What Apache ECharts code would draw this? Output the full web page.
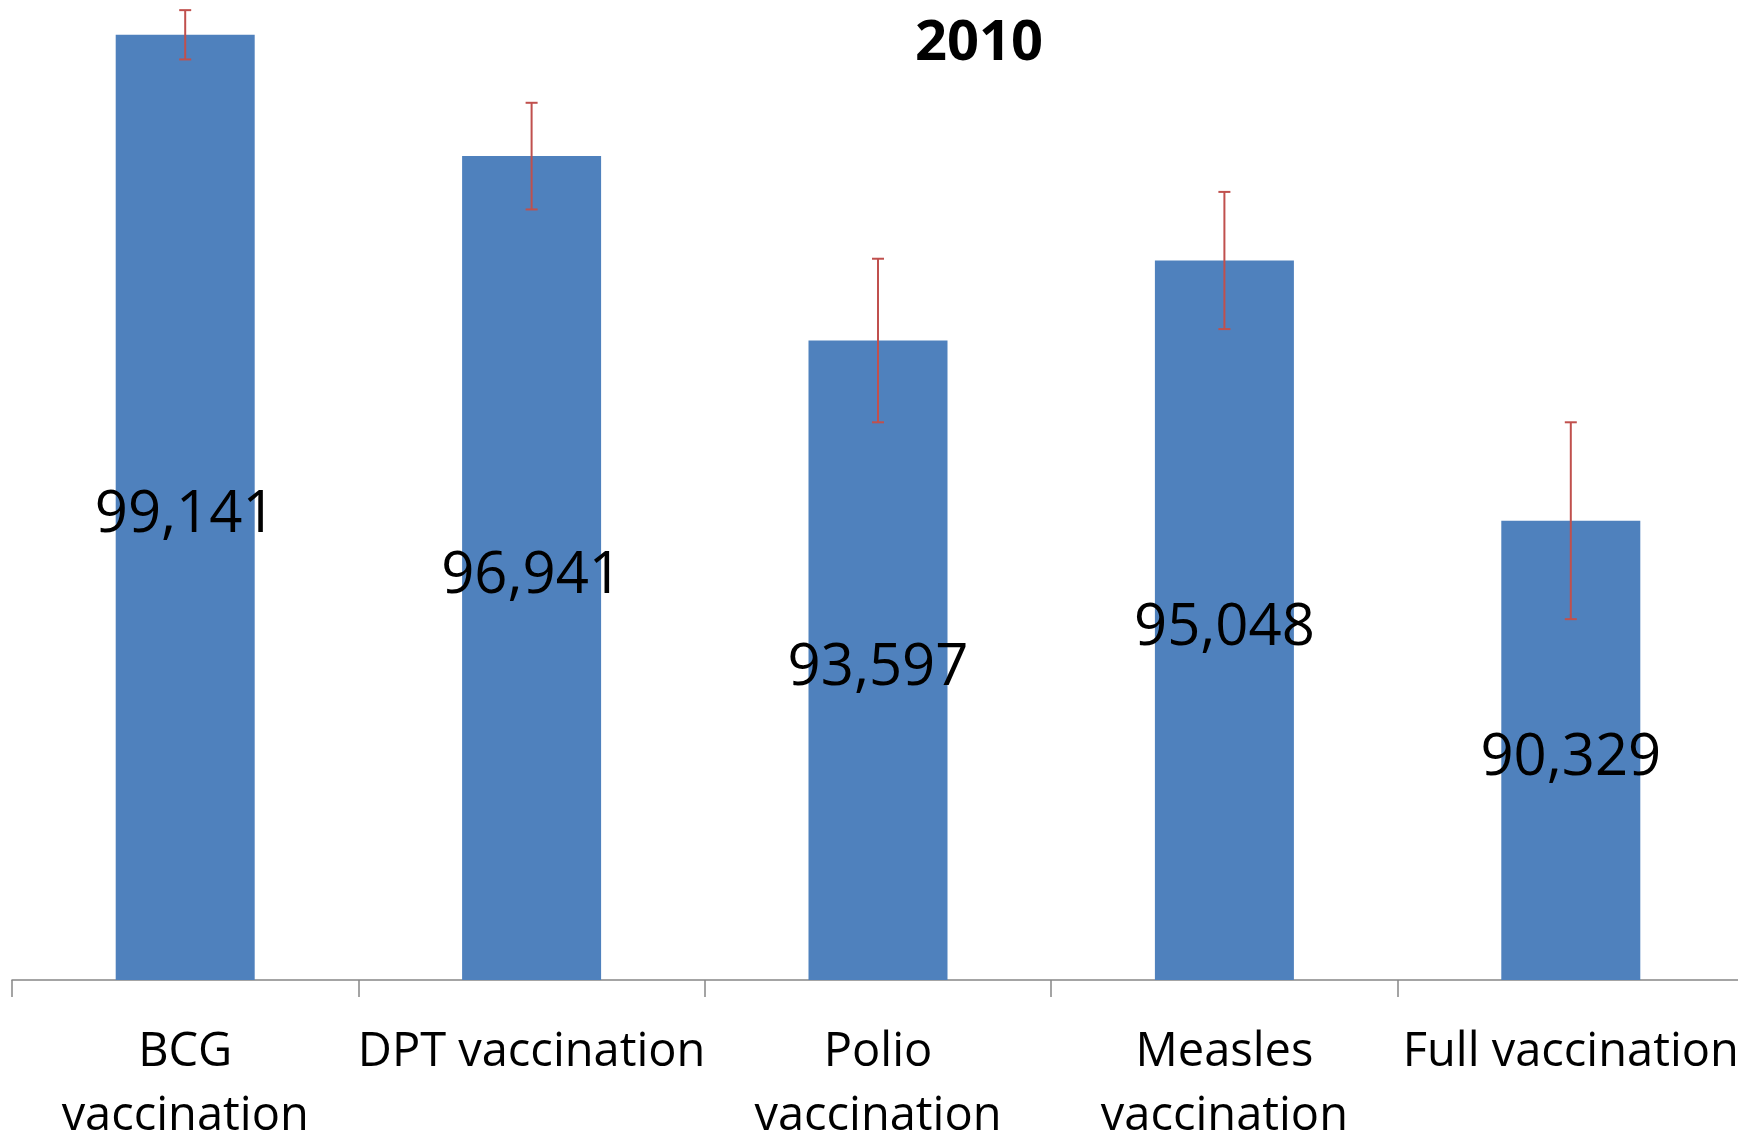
<!DOCTYPE html>
<html>
<head>
<meta charset="utf-8">
<script src="https://cdn.jsdelivr.net/npm/echarts@6/dist/echarts.min.js"></script>
<style>
html,body{margin:0;padding:0;background:#fff;}
#chart{width:1738px;height:1138px;}
</style>
</head>
<body>
<div id="chart"></div>
<script>
var titleText = '2010';
var categories = ['BCG\nvaccination', 'DPT vaccination', 'Polio\nvaccination', 'Measles\nvaccination', 'Full vaccination'];
var values = [99141, 96941, 93597, 95048, 90329];
var errors = [447, 967, 1483, 1244, 1785];

var FONT = 'Open Sans';
var errData = values.map(function (v, i) { return [i, v - errors[i], v + errors[i]]; });

var chart = echarts.init(document.getElementById('chart'), null, {renderer: 'canvas'});
chart.setOption({
  backgroundColor: '#ffffff',
  animation: false,
  title: {
    text: titleText,
    left: 910,
    top: 11,
    textStyle: {fontFamily: FONT, fontWeight: 'bold', fontSize: 56, color: '#000'}
  },
  grid: {left: 12, width: 1732, top: 15, height: 965, containLabel: false, outerBoundsMode: 'none'},
  xAxis: {
    type: 'category',
    data: categories,
    boundaryGap: true,
    axisLine: {show: true, lineStyle: {color: '#868686', width: 1.5}},
    axisTick: {show: true, alignWithLabel: false, length: 17, lineStyle: {color: '#868686', width: 1.5}},
    axisLabel: {interval: 0, margin: 41, fontFamily: FONT, fontSize: 47, color: '#000', lineHeight: 64, align: 'center'},
    splitLine: {show: false}
  },
  yAxis: {
    type: 'value',
    min: 82000,
    max: 99500,
    show: false,
    splitLine: {show: false}
  },
  series: [
    {
      type: 'bar',
      data: values,
      barWidth: 139,
      itemStyle: {color: '#4F81BD'},
      label: {
        show: true,
        position: 'inside',
        offset: [0, 8],
        color: '#000',
        fontFamily: FONT,
        fontSize: 58,
        formatter: function (p) { return p.value.toLocaleString('en-US'); }
      }
    },
    {
      type: 'custom',
      data: errData,
      clip: false,
      z: 10,
      renderItem: function (params, api) {
        var x = api.value(0);
        var lo = api.coord([x, api.value(1)]);
        var hi = api.coord([x, api.value(2)]);
        var hw = 6;
        var style = {stroke: '#C0504D', lineWidth: 2, fill: null};
        return {
          type: 'group',
          children: [
            {type: 'line', shape: {x1: hi[0], y1: hi[1], x2: lo[0], y2: lo[1]}, style: style},
            {type: 'line', shape: {x1: hi[0] - hw, y1: hi[1], x2: hi[0] + hw, y2: hi[1]}, style: style},
            {type: 'line', shape: {x1: lo[0] - hw, y1: lo[1], x2: lo[0] + hw, y2: lo[1]}, style: style}
          ]
        };
      }
    }
  ]
});
</script>
</body>
</html>
